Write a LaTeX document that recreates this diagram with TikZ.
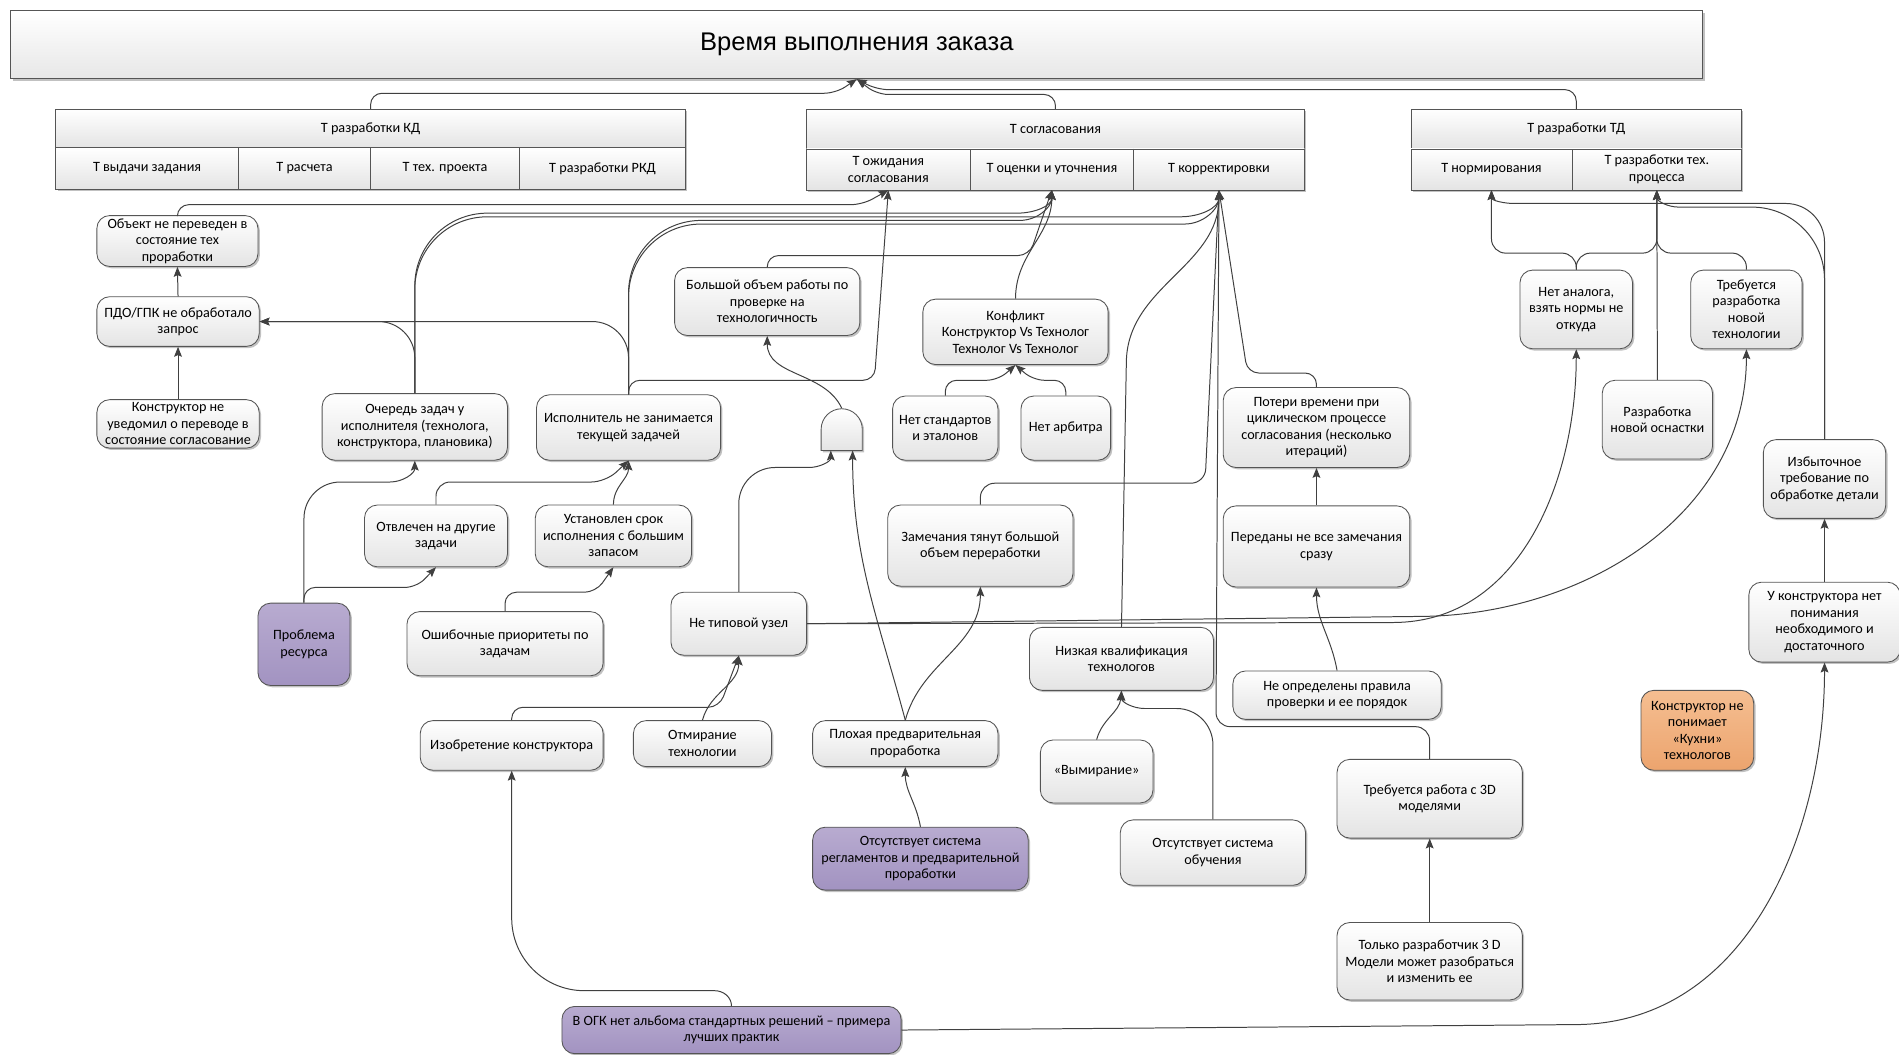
\documentclass[tikz,border=0pt]{standalone}
\usepackage{fontspec}
\setmainfont{Carlito}
\newfontfamily\titlefont{Liberation Sans}
\usepackage{tikz}
\usetikzlibrary{arrows.meta,shapes,positioning,shadows}
\usepackage{xcolor}
\definecolor{dgline}{RGB}{64,64,64}
\definecolor{dgborder}{RGB}{85,85,85}
\definecolor{dgtop}{RGB}{255,255,255}
\definecolor{dgbottom}{RGB}{228,228,228}
\definecolor{dgviolet}{RGB}{184,171,208}
\definecolor{dgviolet2}{RGB}{162,147,193}
\definecolor{dgorange}{RGB}{245,190,145}
\definecolor{dgorange2}{RGB}{236,164,110}
\tikzstyle{cause} = [rectangle, rounded corners=9pt, draw=dgborder, line width=0.6pt, top color=dgtop, bottom color=dgbottom, align=center, inner sep=1pt, font=\fontsize{10}{11.6}\selectfont, drop shadow={shadow xshift=1.3pt, shadow yshift=-1.3pt, opacity=0.35, fill=black!70}]
\tikzstyle{keycause} = [top color=dgviolet, bottom color=dgviolet2]
\tikzstyle{sidenote} = [top color=dgorange, bottom color=dgorange2]
\tikzstyle{cell} = [rectangle, draw=dgborder, line width=0.6pt, top color=dgtop, bottom color=dgbottom, align=center, inner sep=1pt, outer sep=0pt, font=\fontsize{10}{11.6}\selectfont, drop shadow={shadow xshift=1.3pt, shadow yshift=-1.3pt, opacity=0.35, fill=black!70}]
\tikzstyle{root} = [rectangle, draw=dgborder, line width=0.6pt, top color=dgtop, bottom color=dgbottom!90, drop shadow={shadow xshift=1.5pt, shadow yshift=-1.5pt, opacity=0.35, fill=black!70}]
\tikzstyle{andgate} = [rectangle, minimum width=1.02cm, minimum height=1.05cm, inner sep=0pt, outer sep=0pt]
\tikzstyle{link} = [->, >={Stealth[length=7pt, width=5.5pt, inset=1.2pt]}, draw=dgline, line width=0.7pt]

\begin{document}
\begin{tikzpicture}[x=0.03cm, y=0.03cm]
\useasboundingbox (0,0) rectangle (1568,-871);

% Order lead time
\node (title) [root, minimum width=41.91cm, minimum height=1.68cm] at (707.5,-37) {\titlefont\fontsize{18}{22}\selectfont Время выполнения заказа};

% Design documentation
\node (kd) [cell, minimum width=15.6cm, minimum height=0.96cm] at (306,-106) {Т разработки КД};
\node (kd1) [cell, minimum width=4.53cm, minimum height=1.02cm, below right=0cm of kd.south west] {Т выдачи задания};
\node (kd2) [cell, minimum width=3.27cm, minimum height=1.02cm, right=0cm of kd1] {Т расчета};
\node (kd3) [cell, minimum width=3.69cm, minimum height=1.02cm, right=0cm of kd2] {Т тех. проекта};
\node (kd4) [cell, minimum width=4.11cm, minimum height=1.02cm, right=0cm of kd3] {Т разработки РКД};

% Approval
\node (sg) [cell, minimum width=12.33cm, minimum height=0.99cm] at (871.5,-106.5) {Т согласования};
\node (sg1) [cell, minimum width=4.05cm, minimum height=1.02cm, below right=0cm of sg.south west] {Т ожидания\\согласования};
\node (sg2) [cell, minimum width=4.05cm, minimum height=1.02cm, right=0cm of sg1] {Т оценки и уточнения};
\node (sg3) [cell, minimum width=4.23cm, minimum height=1.02cm, right=0cm of sg2] {Т корректировки};

% Technological documentation
\node (td) [cell, minimum width=8.19cm, minimum height=0.99cm] at (1301.5,-106.5) {Т разработки ТД};
\node (td1) [cell, minimum width=3.99cm, minimum height=1.02cm, below right=0cm of td.south west] {Т нормирования};
\node (td2) [cell, minimum width=4.2cm, minimum height=1.02cm, right=0cm of td1] {Т разработки тех.\\процесса};

% Left column
\node (obj) [cause, minimum width=3.99cm, minimum height=1.26cm] at (146.5,-199) {Объект не переведен в\\состояние тех\\проработки};
\node (pdo) [cause, minimum width=4.02cm, minimum height=1.23cm] at (147,-265.5) {ПДО/ГПК не обработало\\запрос};
\node (konstrnu) [cause, minimum width=4.02cm, minimum height=1.2cm] at (147,-350) {Конструктор не\\уведомил о переводе в\\состояние согласование};

% Executor
\node (queue) [cause, minimum width=4.59cm, minimum height=1.65cm] at (342.5,-352.5) {Очередь задач у\\исполнителя (технолога,\\конструктора, плановика)};
\node (ispoln) [cause, minimum width=4.56cm, minimum height=1.62cm] at (519,-353) {Исполнитель не занимается\\текущей задачей};
\node (otvlechen) [cause, minimum width=3.54cm, minimum height=1.53cm] at (360,-442.5) {Отвлечен на другие\\задачи};
\node (ustanovlen) [cause, minimum width=3.87cm, minimum height=1.53cm] at (506.5,-442.5) {Установлен срок\\исполнения с большим\\запасом};
\node (problem) [cause, keycause, minimum width=2.28cm, minimum height=2.04cm] at (251,-532) {Проблема\\ресурса};
\node (oshib) [cause, minimum width=4.86cm, minimum height=1.59cm] at (417,-531.5) {Ошибочные приоритеты по\\задачам};

% Checking
\node (bigvol) [cause, minimum width=4.59cm, minimum height=1.68cm] at (633.5,-249) {Большой объем работы по\\проверке на\\технологичность};
\node (gate) [andgate] at (695,-354.5) {};
\draw[dgborder, line width=0.6pt, top color=dgtop, bottom color=dgbottom, drop shadow={shadow xshift=1.3pt, shadow yshift=-1.3pt, opacity=0.35, fill=black!70}] (gate.south west) -- (gate.west) arc[start angle=180, end angle=0, radius=0.51cm] -- (gate.south east) -- cycle;
\node (netip) [cause, minimum width=3.36cm, minimum height=1.56cm] at (610,-515) {Не типовой узел};
\node (izobr) [cause, minimum width=4.53cm, minimum height=1.23cm] at (422.5,-615.5) {Изобретение конструктора};
\node (otmir) [cause, minimum width=3.42cm, minimum height=1.14cm] at (580,-614) {Отмирание\\технологии};
\node (ploh) [cause, minimum width=4.59cm, minimum height=1.14cm] at (747.5,-614) {Плохая предварительная\\проработка};
\node (otsreg) [cause, keycause, minimum width=5.34cm, minimum height=1.56cm] at (760,-709) {Отсутствует система\\регламентов и предварительной\\проработки};
\node (vogk) [cause, keycause, minimum width=8.4cm, minimum height=1.17cm] at (604,-850.5) {В ОГК нет альбома стандартных решений – примера\\лучших практик};

% Conflict and corrections
\node (konflikt) [cause, minimum width=4.59cm, minimum height=1.62cm] at (838.5,-274) {Конфликт\\Конструктор Vs Технолог\\Технолог Vs Технолог};
\node (netstd) [cause, minimum width=2.61cm, minimum height=1.59cm] at (780.5,-353.5) {Нет стандартов\\и эталонов};
\node (netarb) [cause, minimum width=2.22cm, minimum height=1.59cm] at (880,-353.5) {Нет арбитра};
\node (zamech) [cause, minimum width=4.59cm, minimum height=2.01cm] at (809.5,-450.5) {Замечания тянут большой\\объем переработки};
\node (nizk) [cause, minimum width=4.56cm, minimum height=1.56cm] at (926,-544) {Низкая квалификация\\технологов};
\node (vymir) [cause, minimum width=2.79cm, minimum height=1.56cm] at (905.5,-637) {«Вымирание»};
\node (otsobuch) [cause, minimum width=4.59cm, minimum height=1.62cm] at (1001.5,-704) {Отсутствует система\\обучения};
\node (poteri) [cause, minimum width=4.62cm, minimum height=1.98cm] at (1087,-353) {Потери времени при\\циклическом процессе\\согласования (несколько\\итераций)};
\node (peredany) [cause, minimum width=4.62cm, minimum height=2.01cm, below=0.93cm of poteri] {Переданы не все замечания\\сразу};
\node (neopr) [cause, minimum width=5.16cm, minimum height=1.2cm] at (1104,-574) {Не определены правила\\проверки и ее порядок};
\node (treb3d) [cause, minimum width=4.59cm, minimum height=1.95cm] at (1180.5,-659.5) {Требуется работа с 3D\\моделями};
\node (tolko) [cause, minimum width=4.59cm, minimum height=1.92cm, below=2.07cm of treb3d] {Только разработчик 3 D\\Модели может разобраться\\и изменить ее};

% Technology
\node (netanalog) [cause, minimum width=2.79cm, minimum height=1.95cm] at (1301.5,-255.5) {Нет аналога,\\взять нормы не\\откуда};
\node (trebnov) [cause, minimum width=2.76cm, minimum height=1.95cm] at (1442,-255.5) {Требуется\\разработка\\новой\\технологии};
\node (osnastka) [cause, minimum width=2.73cm, minimum height=1.95cm] at (1368.5,-346.5) {Разработка\\новой оснастки};
\node (izbyt) [cause, minimum width=3.03cm, minimum height=1.95cm] at (1506.5,-395.5) {Избыточное\\требование по\\обработке детали};
\node (ukonstr) [cause, minimum width=3.75cm, minimum height=1.98cm, below=1.56cm of izbyt] {У конструктора нет\\понимания\\необходимого и\\достаточного};
\node (kuhni) [cause, sidenote, minimum width=2.79cm, minimum height=1.98cm] at (1401.5,-603) {Конструктор не\\понимает\\«Кухни»\\технологов};

% Links to the title
\draw[link, rounded corners=8pt] (kd.north) |- (690,-77) -- (title.south);
\draw[link, rounded corners=8pt] (sg.north) |- (724,-78) -- (title.south);
\draw[link, rounded corners=8pt] (td.north) |- (724,-74) -- (title.south);

% Links to approval
\draw[link, rounded corners=8pt] (obj.north) |- (712,-169) -- (sg1.south);
\draw[link, rounded corners=8pt] (ispoln.north) |- (722,-314) -- (sg1.south);
\draw[link] (queue.north) -- (342.5,-236) to[out=90,in=180] (402.5,-176) -- (840,-176) to[out=0,in=-90] (sg2.south);
\draw[link] (ispoln.north) -- (519,-242) to[out=90,in=180] (579,-182) -- (842,-182) to[out=0,in=-90] (sg2.south);
\draw[link, rounded corners=8pt] (bigvol.north) |- (850,-211) -- (sg2.south);
\draw[link] (konflikt.north) to[out=90,in=-90] (sg2.south);
\draw[link] (queue.north) -- (342.5,-239) to[out=90,in=180] (402.5,-179) -- (975,-179) to[out=0,in=-90] (sg3.south);
\draw[link] (ispoln.north) -- (519,-245) to[out=90,in=180] (579,-185) -- (978,-185) to[out=0,in=-90] (sg3.south);
\draw[link] (nizk.north) -- (930,-300) to[out=90,in=-90] (sg3.south);
\draw[link, rounded corners=10pt] (zamech.north) |- (995,-399) -- (sg3.south);
\draw[link, rounded corners=8pt] (poteri.north) |- (1030,-308) -- (sg3.south);
\draw[link, rounded corners=10pt] (treb3d.north) |- (1004,-600) -- (sg3.south);

% Left part
\draw[link] (pdo.north) -- (obj.south);
\draw[link] (konstrnu.north) -- (pdo.south);
\draw[link] (queue.north) -- (342.5,-295.5) to[out=90,in=0] (312.5,-265.5) -- (pdo.east);
\draw[link] (ispoln.north) -- (519,-295.5) to[out=90,in=0] (489,-265.5) -- (pdo.east);
\draw[link] (problem.north) -- (251,-428) to[out=90,in=180] (281,-398) -- (322,-398) to[out=0,in=-90] (queue.south);
\draw[link, rounded corners=8pt] (problem.north) |- (344,-485) -- (otvlechen.south);
\draw[link, rounded corners=10pt] (otvlechen.north) |- (500,-398) -- (ispoln.south);
\draw[link] (ustanovlen.north) to[out=90,in=-90] (ispoln.south);
\draw[link, rounded corners=8pt] (oshib.north) |- (492,-489) -- (ustanovlen.south);

% Middle part
\draw[link] (gate.north) to[out=115,in=-90] (bigvol.south);
\draw[link] (netip.north) -- (610,-416) to[out=90,in=180] (640,-386) -- (668,-386) to[out=0,in=-90] ([xshift=-0.27cm]gate.south);
\draw[link] (ploh.north) to[out=105,in=-90] ([xshift=0.27cm]gate.south);
\draw[link] (ploh.north) to[out=75,in=-90] (zamech.south);
\draw[link] (otsreg.north) to[out=100,in=-90] (ploh.south);
\draw[link, rounded corners=8pt] (izobr.north) |- (594,-584) -- (netip.south);
\draw[link] (otmir.north) to[out=75,in=-90] (netip.south);
\draw[link] (vogk.north) to[out=90,in=0] (590,-818) -- (482.5,-818) to[out=180,in=-90] (422.5,-758) -- (izobr.south);
\draw[link, rounded corners=8pt] (netstd.north) |- (824,-314) -- (konflikt.south);
\draw[link, rounded corners=8pt] (netarb.north) |- (853,-314) -- (konflikt.south);
\draw[link] (vymir.north) to[out=75,in=-95] (nizk.south);
\draw[link] (otsobuch.north) -- (1001.5,-615) to[out=90,in=0] (971.5,-585) -- (945,-585) to[out=180,in=-90] (nizk.south);
\draw[link] (neopr.north) to[out=100,in=-90] (peredany.south);
\draw[link] (peredany.north) -- (poteri.south);
\draw[link] (tolko.north) -- (treb3d.south);

% Right part
\draw[link, rounded corners=10pt] (netanalog.north) |- (1265,-209) -| (td1.south);
\draw[link, rounded corners=10pt] (netanalog.north) |- (1340,-209) -| (td2.south);
\draw[link] (osnastka.north) -- (td2.south);
\draw[link, rounded corners=10pt] (trebnov.north) |- (1395,-209) -| (td2.south);
\draw[link] (izbyt.north) -- (1506.5,-200) to[out=90,in=0] (1474.5,-168) -- (1250,-168) to[out=180,in=-90] (td1.south);
\draw[link] (izbyt.north) -- (1506.5,-231) to[out=90,in=0] (1446.5,-171) -- (1386,-171) to[out=180,in=-90] (td2.south);
\draw[link] (ukonstr.north) -- (izbyt.south);
\draw[link] (netip.east) -- (1150,-514) to[out=0,in=-90] (netanalog.south);
\draw[link] (netip.east) -- (1170,-509) to[out=0,in=-90] (trebnov.south);
\draw[link] (vogk.east) -- (1300,-846) to[out=0,in=-90] (ukonstr.south);
\end{tikzpicture}
\end{document}
